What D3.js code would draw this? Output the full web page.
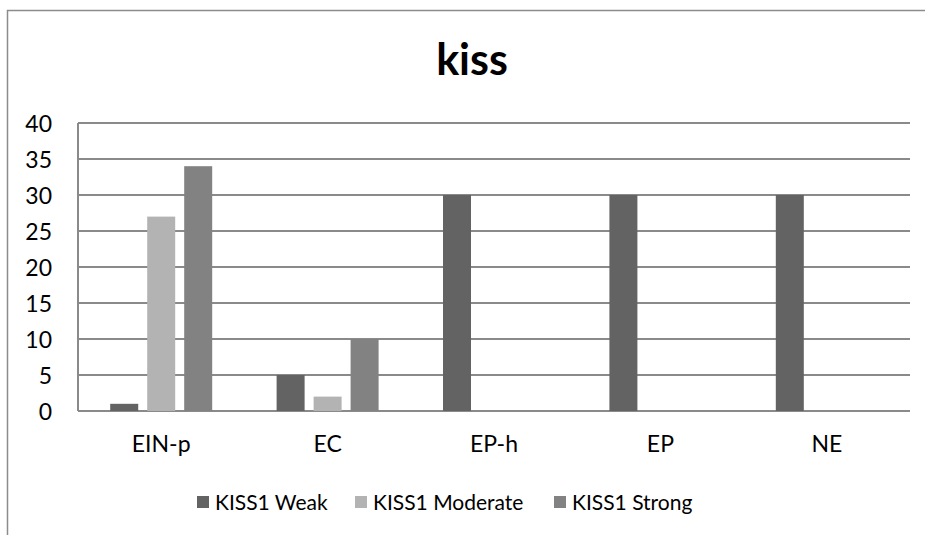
<!DOCTYPE html>
<meta charset="utf-8">
<style>
body { margin: 0; background: #fff; }
text { font-family: Lato, "Open Sans", sans-serif; fill: #000; }
.tick text { font-size: 23px; }
.grid line { stroke: #8a8a8a; stroke-width: 2; }
</style>
<body>
<script src="https://cdn.jsdelivr.net/npm/d3@7/dist/d3.min.js"></script>
<script>
// data
const categories = ["EIN-p", "EC", "EP-h", "EP", "NE"];
const seriesNames = ["KISS1 Weak", "KISS1 Moderate", "KISS1 Strong"];
const weak = [1, 5, 30, 30, 30];
const moderate = [27, 2, 0, 0, 0];
const strong = [34, 10, 0, 0, 0];
const yTicks = [0, 5, 10, 15, 20, 25, 30, 35, 40];
const colors = ["#636363", "#b3b3b3", "#828282"];

const W = 925, H = 535;
const margin = {top: 123, right: 15, bottom: 124, left: 78};
const width = W - margin.left - margin.right,
      height = H - margin.top - margin.bottom;

const svg = d3.select("body").append("svg")
    .attr("width", W)
    .attr("height", H);

// outer chart border (only top and left visible)
svg.append("path")
    .attr("d", "M7.5,535 V10.5 H925")
    .attr("fill", "none")
    .attr("stroke", "#8c8c8c")
    .attr("stroke-width", 1.5);

svg.append("text")
    .attr("x", 472)
    .attr("y", 75)
    .attr("text-anchor", "middle")
    .style("font-size", "43px")
    .style("font-weight", "bold")
    .text("kiss");

const g = svg.append("g")
    .attr("transform", "translate(" + margin.left + "," + margin.top + ")");

const x0 = d3.scaleBand()
    .domain(categories)
    .range([0, width])
    .paddingInner(0.333)
    .paddingOuter(0.1665);
const x1 = d3.scaleBand()
    .domain(seriesNames)
    .range([0, x0.bandwidth()]);
const y = d3.scaleLinear()
    .domain([0, 40])
    .range([height, 0]);

// gridlines
g.append("g")
    .attr("class", "grid")
    .selectAll("line")
    .data(yTicks)
  .enter().append("line")
    .attr("x1", 0)
    .attr("x2", width)
    .attr("y1", d => y(d))
    .attr("y2", d => y(d));

g.append("line")
    .attr("x1", 0).attr("x2", 0)
    .attr("y1", 0).attr("y2", height)
    .attr("stroke", "#8a8a8a")
    .attr("stroke-width", 2);

const series = [weak, moderate, strong];
const rows = categories.map((c, i) => ({
  cat: c,
  vals: seriesNames.map((s, j) => ({name: s, v: series[j][i], color: colors[j]}))
}));

g.selectAll(".grp")
    .data(rows)
  .enter().append("g")
    .attr("class", "grp")
    .attr("transform", d => "translate(" + x0(d.cat) + ",0)")
  .selectAll("rect")
    .data(d => d.vals.filter(o => o.v > 0))
  .enter().append("rect")
    .attr("x", d => x1(d.name) + 4.5)
    .attr("width", x1.bandwidth() - 9)
    .attr("y", d => y(d.v))
    .attr("height", d => y(0) - y(d.v))
    .attr("fill", d => d.color);

// y axis labels
const yAxis = g.append("g")
    .call(d3.axisLeft(y).tickValues(yTicks).tickSize(0).tickPadding(26));
yAxis.select(".domain").remove();
yAxis.selectAll("text").attr("dy", "0.36em");

// x axis labels
const xAxis = g.append("g")
    .attr("transform", "translate(0," + height + ")")
    .call(d3.axisBottom(x0).tickSize(0).tickPadding(25));
xAxis.select(".domain").remove();

// legend
const legendX = [197, 355, 554];
const leg = svg.append("g").selectAll("g")
    .data(seriesNames)
  .enter().append("g")
    .attr("transform", (d, i) => "translate(" + legendX[i] + ",496)");
leg.append("rect")
    .attr("width", 12)
    .attr("height", 12)
    .attr("fill", (d, i) => colors[i]);
leg.append("text")
    .attr("x", 18)
    .attr("y", 6)
    .attr("dy", "0.36em")
    .style("font-size", "21px")
    .text(d => d);
</script>
</body>
